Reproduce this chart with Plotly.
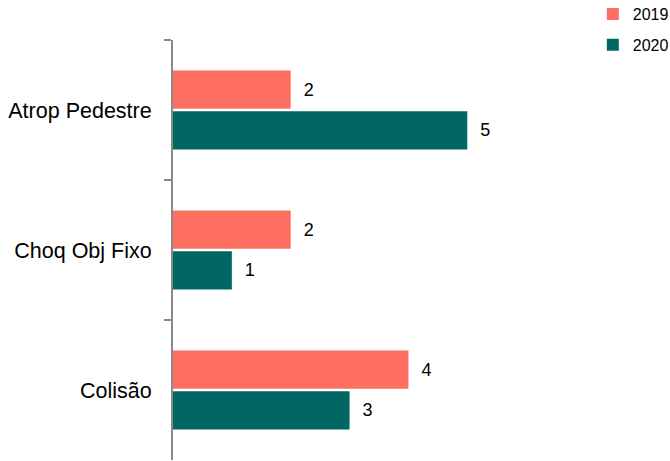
import plotly.graph_objects as go

categories = ["Atrop Pedestre", "Choq Obj Fixo", "Colisão"]
series_names = ["2019", "2020"]
values_2019 = [2, 2, 4]
values_2020 = [5, 1, 3]
colors = ["#FF6F61", "#016764"]

fig = go.Figure()
for i, (name, vals, col) in enumerate(zip(series_names, [values_2019, values_2020], colors)):
    fig.add_trace(go.Bar(
        name=name, y=categories, x=vals, orientation="h",
        legendgroup=f"g{i}",
        marker=dict(color=col, line=dict(width=0)),
        text=[f"\u00a0\u00a0{v}" for v in vals],
        textposition="outside", cliponaxis=False,
        textfont=dict(size=18, color="#000000", family="Liberation Sans, Arial"),
    ))

fig.update_layout(
    width=670, height=461,
    barmode="group", bargap=0.42, bargroupgap=0.06,
    plot_bgcolor="white", paper_bgcolor="white",
    margin=dict(l=173, r=85, t=40, b=1, autoexpand=False),
    font=dict(family="Liberation Sans, Arial", size=18, color="#000000"),
    showlegend=True,
    legend=dict(x=1.019, y=1.102, xanchor="left", yanchor="top",
                traceorder="grouped", font=dict(size=16),
                itemwidth=30, tracegroupgap=7, bgcolor="rgba(0,0,0,0)"),
    xaxis=dict(range=[0, 7], visible=False, showgrid=False, zeroline=False),
    yaxis=dict(autorange="reversed", showline=True, linecolor="#898989", linewidth=2,
               ticks="outside", tickson="boundaries", ticklen=7, tickcolor="#898989",
               tickwidth=2, showgrid=False, ticklabelstandoff=15,
               tickfont=dict(size=21.5)),
)
fig.write_html("out.html", config={"displayModeBar": False},
               post_script="document.body.style.margin='0px';")
